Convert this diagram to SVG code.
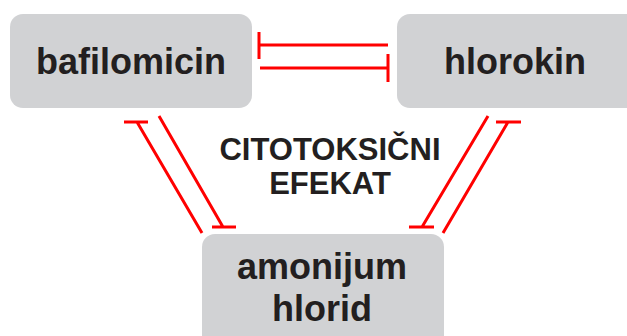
<svg xmlns="http://www.w3.org/2000/svg" width="627" height="336" viewBox="0 0 627 336">
<style>
.box{fill:#d1d2d4;}
.lbl{font-family:"Liberation Sans",Arial,sans-serif;font-weight:bold;fill:#231f20;text-anchor:middle;}
.big{font-size:36px;}
.mid{font-size:31px;}
.c{stroke:#ff0000;stroke-width:3;fill:none;stroke-linecap:butt;}
</style>
<rect width="627" height="336" fill="#ffffff"/>
<g id="bafilomicin">
<rect class="box" x="10" y="14" width="242" height="94" rx="13"/>
<text class="lbl big" x="131" y="74">bafilomicin</text>
</g>
<g id="hlorokin">
<rect class="box" x="397" y="14" width="250" height="94" rx="13"/>
<text class="lbl big" x="515" y="74">hlorokin</text>
</g>
<g id="amonijum">
<rect class="box" x="202" y="234" width="242" height="130" rx="13"/>
<text class="lbl big" x="322" y="279">amonijum</text>
<text class="lbl big" x="322" y="321">hlorid</text>
</g>
<g id="label">
<text class="lbl mid" x="330" y="160">CITOTOKSIČNI</text>
<text class="lbl mid" x="330" y="194">EFEKAT</text>
</g>
<g id="connectors">
<path class="c" d="M259,45 H388 M259,32 V59"/>
<path class="c" d="M260,68 H388 M388,54 V82"/>
<path class="c" d="M137,122 L202,233 M124,122 H148"/>
<path class="c" d="M159,116 L223,227 M212,227 H236"/>
<path class="c" d="M488,116 L422,227 M409,227 H434"/>
<path class="c" d="M508,122 L443,233 M496,122 H521"/>
</g>
</svg>
